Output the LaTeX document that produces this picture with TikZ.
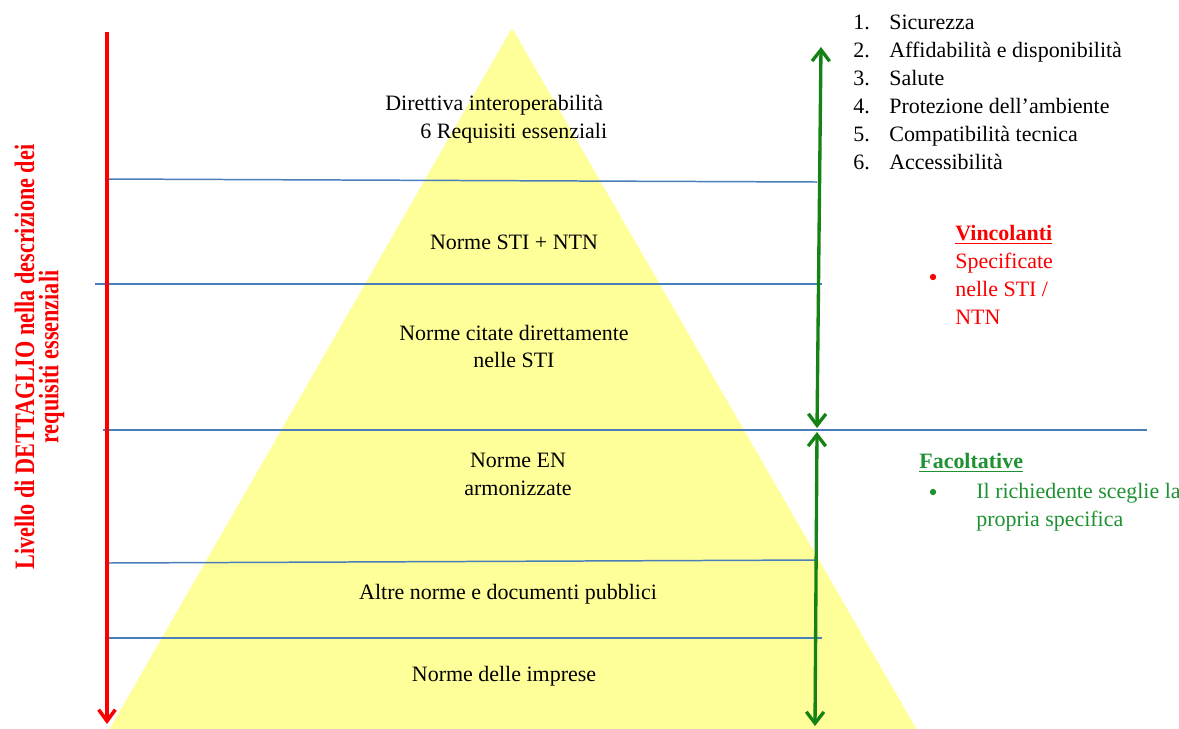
\documentclass[tikz,border=0pt]{standalone}
\usepackage{fontspec}
\setmainfont{Liberation Serif}
\newfontfamily\narrowserif[FakeStretch=0.79]{Liberation Serif}
\usepackage{tikz}
\usetikzlibrary{arrows.meta,positioning}
\definecolor{pyryellow}{RGB}{255,255,153}
\definecolor{layerblue}{RGB}{74,126,187}
\definecolor{detailred}{RGB}{250,0,0}
\definecolor{optgreen}{RGB}{30,145,50}
\definecolor{arrowgreen}{RGB}{20,130,20}
\tikzset{
  every node/.style={font=\fontsize{12.5}{15.9}\selectfont, inner sep=0pt},
  layer/.style={draw=layerblue, line width=0.85pt},
  levelarrow/.style={line width=2pt, -{Straight Barb[length=6.5pt,width=9.5pt]}},
  bindarrow/.style={arrowgreen, line width=1.9pt,
    {Straight Barb[length=6.5pt,width=10pt]}-{Straight Barb[length=6.5pt,width=10pt]}},
  dot/.style={circle, fill, minimum size=3.6pt},
}

\begin{document}
\begin{tikzpicture}[x=0.02cm, y=-0.02cm]
\useasboundingbox (0,0) rectangle (1179,728);
% Pyramid of norms
\fill[pyryellow] (512,28) -- (917,730) -- (109,730) -- cycle;
% Layer borders
\coordinate (l1a) at (107,179); \coordinate (l1b) at (817,182);
\coordinate (l2a) at (95,284);  \coordinate (l2b) at (822,284);
\coordinate (l3a) at (103,430); \coordinate (l3b) at (1147,430);
\coordinate (l4a) at (107,563); \coordinate (l4b) at (817,560);
\coordinate (l5a) at (108,638); \coordinate (l5b) at (822,638);
\foreach \k in {1,...,5}{
  \draw[layer] (l\k a) -- (l\k b);
}
% Level of detail arrow
\coordinate (redtop) at (107,32);
\coordinate (redbot) at (107,724);
\draw[levelarrow, detailred] (redtop) -- (redbot);
\node[rotate=90, align=center, text=detailred,
  font=\narrowserif\bfseries\fontsize{16}{13.8}\selectfont] (detail) at (39.5,357)
  {Livello di DETTAGLIO nella descrizione dei\\requisiti essenziali};
% Binding / optional arrows
\coordinate (gtop) at (821,47);
\coordinate (gmid1) at (817,428);
\coordinate (gmid2) at (817,432);
\coordinate (gbot) at (815,726);
\draw[bindarrow] (gtop) -- (gmid1);
\draw[bindarrow] (gmid2) -- (gbot);
% Layers of the pyramid
\node[anchor=west, align=left] (directive) at (385,119.5)
  {Direttiva interoperabilità\\\hspace*{20pt}6 Requisiti essenziali};
\node[align=center] (sti) at (514,242) {Norme STI + NTN};
\node[align=center] (cited) at (514,346.5) {Norme citate direttamente\\nelle STI};
\node[align=center] (en) at (518,474.5) {Norme EN\\armonizzate};
\node[align=center] (public) at (508,594) {Altre norme e documenti pubblici};
\node[align=center] (company) at (504,676) {Norme delle imprese};
% Essential requirements
\foreach \n/\req [count=\k] in {1/Sicurezza, 2/Affidabilità e disponibilità, 3/Salute,
    4/Protezione dell’ambiente, 5/Compatibilità tecnica, 6/Accessibilità}{
  \node[anchor=base west] (num\k) at (853,{29+28*(\k-1)}) {\n.};
  \node[anchor=base west] (req\k) at (889,{29+28*(\k-1)}) {\req};
}
% Binding norms
\node[anchor=west, align=left, text=detailred] (binding) at (955,275)
  {\textbf{\underline{Vincolanti}}\\Specificate\\nelle STI /\\NTN};
\node[dot, detailred] (bindot) at (933,277) {};
% Optional norms
\node[anchor=west, text=optgreen] (optional) at (919,463)
  {\textbf{\underline{Facoltative}}};
\node[dot, optgreen] (optdot) at (933,492) {};
\node[anchor=west, align=left, text=optgreen] (choice) at (976,507)
  {Il richiedente sceglie la\\propria specifica};
\end{tikzpicture}
\end{document}
